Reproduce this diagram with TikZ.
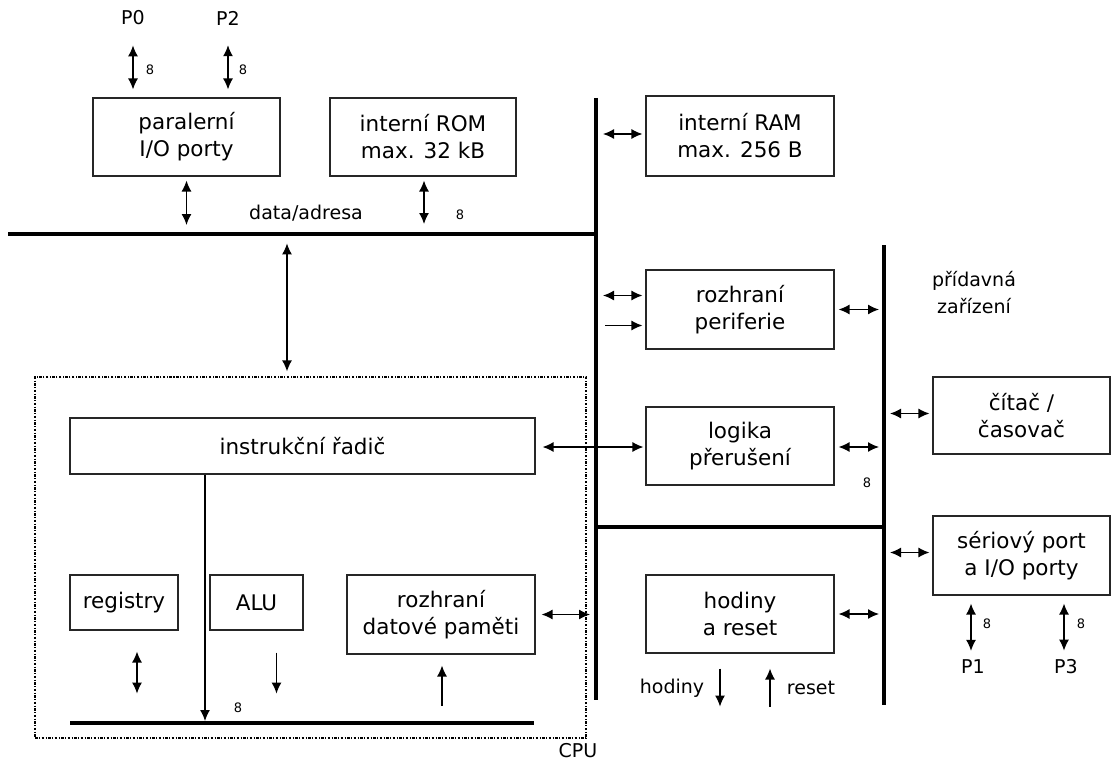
\documentclass[tikz,border=0pt]{standalone}
\usepackage{fontspec}
\setmainfont{DejaVu Sans}
\usetikzlibrary{arrows.meta, positioning, calc}

\begin{document}
\begin{tikzpicture}[
  x=1pt, y=-1pt,
  blok/.style={rectangle, draw=black!85, line width=1.1pt, align=center,
               inner sep=0pt, font=\fontsize{21.5}{27}\selectfont},
  bus/.style={line width=4pt},
  arr/.style={-{Latex[length=11pt,width=10pt]}, line width=1.3pt},
  darr/.style={{Latex[length=11pt,width=10pt]}-{Latex[length=11pt,width=10pt]}, line width=1.3pt},
  lbl/.style={inner sep=0pt, font=\fontsize{19}{27}\selectfont, align=center},
  bit/.style={inner sep=0pt, font=\fontsize{13}{13}\selectfont},
  cpubox/.style={draw, line width=1.2pt, dash pattern=on 2.5pt off 1.5pt on 1pt off 1.5pt}
]
\useasboundingbox (0,0) rectangle (1111,765);

% bloky
\node[blok, minimum width=187, minimum height=78] (par) at (186.5,137) {paralerní\\I/O porty};
\node[blok, minimum width=186, minimum height=78] (rom) at (423,137)   {interní ROM\\max. 32 kB};
\node[blok, minimum width=188, minimum height=80] (ram) at (740,136)   {interní RAM\\max. 256 B};
\node[blok, minimum width=188, minimum height=79] (per) at (740,309.5) {rozhraní\\periferie};
\node[blok, minimum width=188, minimum height=78] (log) at (740,446)   {logika\\přerušení};
\node[blok, minimum width=188, minimum height=78] (hod) at (740,614)   {hodiny\\a reset};
\node[blok, minimum width=177, minimum height=77] (cit) at (1021.5,415.5) {čítač /\\časovač};
\node[blok, minimum width=177, minimum height=79] (ser) at (1021.5,555.5) {sériový port\\a I/O porty};

% CPU
\node[cpubox, minimum width=551, minimum height=361] (cpu) at (310.5,557.5) {};
\node[lbl, anchor=north] (cpulbl) at (578,743) {CPU};
\node[blok, minimum width=465, minimum height=56] (ird) at (302.5,446)   {instrukční řadič};
\node[blok, minimum width=108, minimum height=55] (reg) at (124,602.5)   {registry};
\node[blok, minimum width=93,  minimum height=55] (alu) at (256.5,602.5) {ALU};
\node[blok, minimum width=188, minimum height=79] (rdp) at (441,614.5)   {rozhraní\\datové paměti};

% sbernice
\coordinate (dbL) at (8,234);   \coordinate (dbR) at (596,234);
\coordinate (mbT) at (596,98);  \coordinate (mbB) at (596,700);
\coordinate (rbT) at (884,245); \coordinate (rbB) at (884,705);
\coordinate (xb)  at (596,527);
\coordinate (ibL) at (70,723);  \coordinate (ibR) at (534,723);
\draw[bus] (dbL) -- (dbR);
\draw[bus] (mbT) -- (mbB);
\draw[bus] (rbT) -- (rbB);
\draw[bus] (xb) -- (xb -| rbT);
\draw[bus] (ibL) -- (ibR);

% popisky
\node[lbl] (p0) at (133,18)  {P0};
\node[lbl] (p2) at (228,18)  {P2};
\node[lbl] (p1) at (973,667) {P1};
\node[lbl] (p3) at (1066,667) {P3};
\node[lbl] (data) at (306,213) {data/adresa};
\node[lbl] (prid) at (974,293) {přídavná\\zařízení};
\node[lbl] (hodl) at (672,688) {hodiny};
\node[lbl] (resl) at (811,688) {reset};

% sipky
\draw[darr] ($(p0.south)+(0,20)$) -- ($(p0 |- par.north)+(0,-8)$);
\draw[darr] ($(p2.south)+(0,20)$) -- ($(p2 |- par.north)+(0,-8)$);
\draw[darr] ($(par.south)+(0,4)$) -- ($(par.south |- dbL)+(0,-9)$);
\draw[darr] ($(rom.south)+(1,4)$) -- ($(rom.south |- dbL)+(1,-10)$);
\draw[darr] ($(cpu.north -| 287,0)+(0,-133)$) -- ($(cpu.north -| 287,0)+(0,-5)$);
\draw[darr] ($(ram.west -| mbT)+(7,-2)$) -- ($(ram.west)+(-3,-2)$);
\draw[darr] ($(per.west -| mbT)+(7,-14)$) -- ($(per.west)+(-3,-14)$);
\draw[arr]  ($(per.west -| mbT)+(9,16)$) -- ($(per.west)+(-3,16)$);
\draw[darr] ($(per.east)+(4,0)$) -- ($(per.east -| rbT)+(-5,0)$);
\draw[darr] ($(ird.east)+(7,1)$) -- ($(log.west)+(-2,1)$);
\draw[darr] ($(log.east)+(4,1)$) -- ($(log.east -| rbT)+(-5,1)$);
\draw[darr] ($(cit.west -| rbT)+(6,-2)$) -- ($(cit.west)+(-3,-2)$);
\draw[darr] ($(ser.west -| rbT)+(6,-3)$) -- ($(ser.west)+(-3,-3)$);
\draw[darr] ($(hod.east)+(4,0)$) -- ($(hod.east -| rbT)+(-5,0)$);
\draw[darr] ($(rdp.east)+(6,0)$) -- ($(rdp.east -| mbT)+(-6,0)$);
\draw[arr]  ($(hod.south)+(-20,15)$) -- ($(hod.south)+(-20,53)$);
\draw[arr]  ($(hod.south)+(30,53)$) -- ($(hod.south)+(30,15)$);
\draw[darr] ($(ser.south -| p1)+(-2,8)$) -- ($(p1.north)+(-2,-9)$);
\draw[darr] ($(ser.south -| p3)+(-2,8)$) -- ($(p3.north)+(-2,-9)$);
\draw[darr] ($(reg.south)+(13,21)$) -- ($(reg.south)+(13,63)$);
\draw[arr]  ($(alu.south)+(20,22)$) -- ($(alu.south)+(20,63)$);
\draw[arr]  ($(rdp.south)+(1,51)$) -- ($(rdp.south)+(1,11)$);
\draw[arr]  (ird.south -| 205,0) -- ($(ibL -| 205,0)+(0,-2)$);

% sirka sbernice
\node[bit] (b0) at (150,70)  {8};
\node[bit] (b2) at (243,70)  {8};
\node[bit] (br) at (460,215) {8};
\node[bit] (bi) at (238,708) {8};
\node[bit] (bl) at (867,483) {8};
\node[bit] (b1) at (987,624) {8};
\node[bit] (b3) at (1081,624) {8};
\end{tikzpicture}
\end{document}
